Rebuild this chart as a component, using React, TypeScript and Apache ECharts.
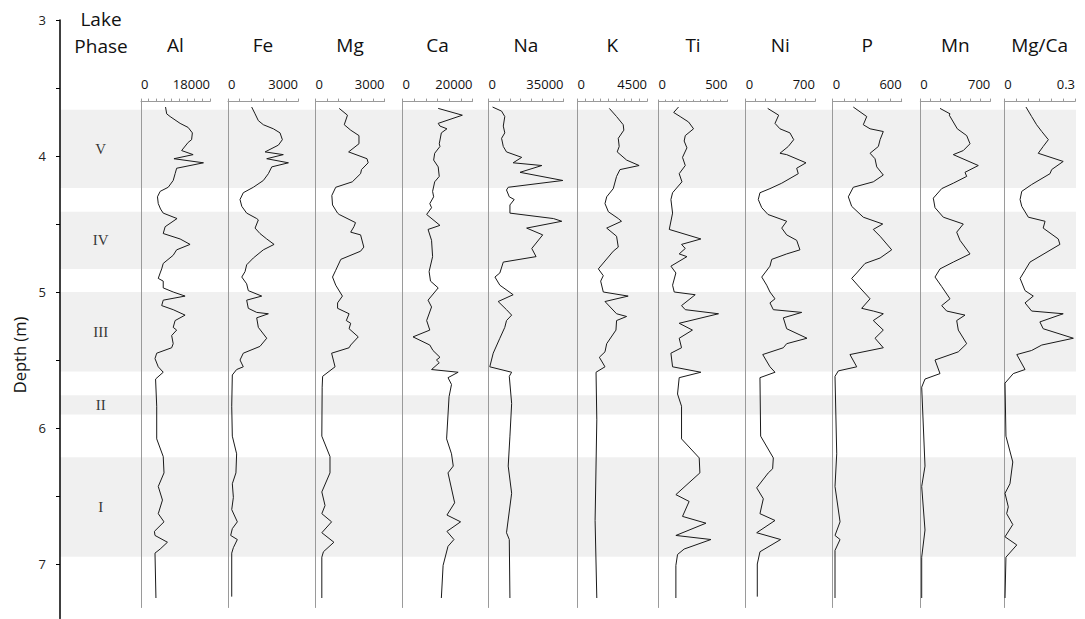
import { useEffect, useRef } from "react";
import * as echarts from "echarts";

// ---------- data ----------
const PANEL_NAMES = ["Al", "Fe", "Mg", "Ca", "Na", "K", "Ti", "Ni", "P", "Mn", "Mg/Ca"];
const PANEL_MAX = [18000, 3000, 3000, 20000, 35000, 4500, 500, 700, 600, 700, 0.3];
const PANEL_MAX_LABELS = ["18000", "3000", "3000", "20000", "35000", "4500", "500", "700", "600", "700", "0.3"];
const PANEL_TICK_COUNT = [9, 6, 6, 6, 7, 9, 10, 7, 6, 7, 6];

const PHASE_NAMES = ["V", "IV", "III", "II", "I"];
const PHASE_TOP = [3.66, 4.41, 5.0, 5.76, 6.215];
const PHASE_BOTTOM = [4.235, 4.83, 5.585, 5.9, 6.946];

const DEPTH_MIN = 3;
const DEPTH_MAX = 7.4;

// [depth (m), value]
const AL = [[3.64,6400],[3.69,6700],[3.71,7600],[3.76,10200],[3.79,12300],[3.83,13400],[3.88,13200],[3.9,12300],[3.96,10600],[3.99,13600],[4.02,8600],[4.05,16300],[4.09,9300],[4.13,8900],[4.18,8400],[4.23,7100],[4.26,5000],[4.3,4300],[4.35,4500],[4.39,5100],[4.42,5800],[4.46,9400],[4.52,6300],[4.57,5800],[4.61,10200],[4.65,12800],[4.69,9300],[4.73,8400],[4.79,5800],[4.83,5400],[4.86,5000],[4.9,4500],[4.92,5800],[4.97,5800],[5.0,8400],[5.03,11500],[5.06,5800],[5.1,5400],[5.13,8400],[5.17,11500],[5.21,8900],[5.26,8400],[5.28,9300],[5.32,8000],[5.38,8400],[5.41,8000],[5.45,4100],[5.49,3650],[5.55,4500],[5.59,5800],[5.64,3800],[5.84,4100],[6.08,4100],[6.21,5800],[6.33,6000],[6.43,4500],[6.53,5600],[6.63,4500],[6.69,6000],[6.76,3500],[6.79,3650],[6.84,6900],[6.89,5000],[6.92,3650],[7.25,3900]];
const FE = [[3.64,1015],[3.69,1160],[3.74,1300],[3.77,1515],[3.8,1945],[3.83,2230],[3.88,2330],[3.92,2160],[3.97,1590],[3.99,2370],[4.02,1660],[4.05,2590],[4.08,1875],[4.13,1730],[4.18,1515],[4.23,1085],[4.27,655],[4.32,515],[4.37,590],[4.42,800],[4.46,1230],[4.47,1300],[4.53,1160],[4.57,1370],[4.61,1660],[4.65,1975],[4.69,1515],[4.75,1085],[4.8,800],[4.85,730],[4.89,590],[4.94,800],[4.99,870],[5.03,1445],[5.06,800],[5.12,870],[5.15,1230],[5.16,1730],[5.19,1230],[5.26,1300],[5.34,1660],[5.4,1370],[5.45,655],[5.5,515],[5.55,655],[5.57,370],[5.61,185],[5.84,160],[6.06,185],[6.19,370],[6.33,340],[6.41,185],[6.51,230],[6.6,160],[6.69,400],[6.74,185],[6.79,115],[6.82,400],[6.88,230],[6.92,160],[7.24,160]];
const MG = [[3.65,1030],[3.7,1390],[3.77,1250],[3.81,1530],[3.85,1890],[3.91,1890],[3.97,1440],[4.02,2240],[4.05,2290],[4.1,2000],[4.13,1960],[4.19,1600],[4.23,880],[4.29,710],[4.36,740],[4.42,960],[4.43,1030],[4.49,1740],[4.52,1670],[4.56,1530],[4.58,1960],[4.67,2100],[4.7,1960],[4.76,1100],[4.84,880],[4.89,740],[4.95,880],[5.03,1170],[5.08,960],[5.12,960],[5.16,1460],[5.21,1340],[5.23,1530],[5.27,1460],[5.33,1860],[5.39,1530],[5.41,1460],[5.45,700],[5.55,850],[5.62,310],[5.7,290],[6.06,275],[6.21,630],[6.33,630],[6.47,275],[6.57,415],[6.63,275],[6.69,700],[6.77,275],[6.84,800],[6.91,345],[6.95,275],[7.25,275]];
const CA = [[3.65,10200],[3.7,17100],[3.76,10200],[3.78,10700],[3.8,12700],[3.83,11100],[3.91,10500],[3.93,10700],[3.98,9200],[4.03,8900],[4.08,10200],[4.15,10500],[4.19,9200],[4.26,8600],[4.3,8900],[4.35,7800],[4.38,8300],[4.43,6900],[4.51,10700],[4.54,7300],[4.62,8300],[4.74,8600],[4.85,7600],[4.92,8000],[4.97,10200],[5.06,7300],[5.11,8300],[5.21,6900],[5.28,7800],[5.33,3000],[5.39,7800],[5.43,8700],[5.48,10700],[5.5,9700],[5.52,10500],[5.57,8300],[5.59,15900],[5.63,13000],[5.68,14000],[5.77,13300],[6.08,12600],[6.19,14000],[6.28,14500],[6.33,13000],[6.55,14900],[6.64,12700],[6.69,16600],[6.76,12700],[6.82,14700],[6.87,13000],[7.01,11600],[7.25,11100]];
const NA = [[3.64,1900],[3.67,6100],[3.71,7600],[3.78,6900],[3.83,7600],[3.87,6100],[3.93,6900],[3.97,8400],[4.01,15500],[4.05,11500],[4.07,24900],[4.12,14700],[4.18,34700],[4.23,9200],[4.25,8400],[4.3,9700],[4.32,12000],[4.36,10000],[4.42,10000],[4.46,30300],[4.48,34200],[4.53,17800],[4.58,25300],[4.68,20200],[4.74,22200],[4.78,6900],[4.86,5300],[4.89,3000],[4.95,5300],[5.02,11500],[5.07,4500],[5.13,8400],[5.17,10800],[5.21,8400],[5.26,7600],[5.34,5300],[5.45,2200],[5.55,600],[5.59,10800],[5.62,9700],[5.82,10800],[6.06,10000],[6.28,9200],[6.48,10800],[6.77,8400],[6.82,9700],[7.25,10000]];
const K = [[3.65,2060],[3.71,2530],[3.77,2960],[3.81,3000],[3.87,2640],[3.93,2700],[3.97,2570],[4.03,3180],[4.07,3990],[4.1,2750],[4.15,2530],[4.24,2315],[4.3,1890],[4.35,1780],[4.41,2000],[4.46,2640],[4.48,2850],[4.53,1890],[4.59,2530],[4.67,2640],[4.7,2315],[4.83,1350],[4.88,1670],[4.92,1500],[5.0,1670],[5.03,3280],[5.07,1780],[5.16,2530],[5.18,3180],[5.21,2530],[5.28,2490],[5.38,1890],[5.44,1780],[5.48,1415],[5.55,1780],[5.59,1200],[5.94,1250],[6.68,1140],[7.25,1250]];
const TI = [[3.64,145],[3.68,110],[3.71,157],[3.75,218],[3.8,254],[3.85,194],[3.89,186],[3.94,206],[4.01,174],[4.07,194],[4.13,150],[4.19,170],[4.27,102],[4.32,90],[4.42,102],[4.54,78],[4.61,307],[4.65,167],[4.68,194],[4.72,150],[4.74,206],[4.81,90],[4.86,126],[4.95,102],[5.0,114],[5.02,266],[5.1,167],[5.13,194],[5.16,435],[5.23,150],[5.28,246],[5.34,150],[5.41,167],[5.45,90],[5.55,102],[5.59,307],[5.63,150],[5.75,138],[5.84,167],[6.08,167],[6.22,295],[6.33,300],[6.49,126],[6.54,222],[6.65,174],[6.7,344],[6.79,126],[6.82,380],[6.89,186],[6.93,138],[7.01,126],[7.25,126]];
const NI = [[3.65,222],[3.7,333],[3.76,296],[3.8,346],[3.83,447],[3.88,485],[3.93,430],[3.98,346],[3.99,414],[4.05,609],[4.09,515],[4.13,531],[4.2,364],[4.24,245],[4.27,144],[4.32,127],[4.38,162],[4.43,225],[4.48,414],[4.53,364],[4.58,414],[4.62,515],[4.69,548],[4.72,414],[4.76,263],[4.81,245],[4.89,162],[4.95,212],[5.0,245],[5.05,296],[5.08,245],[5.13,279],[5.15,566],[5.19,380],[5.27,414],[5.34,619],[5.38,414],[5.41,380],[5.46,172],[5.55,245],[5.59,296],[5.63,144],[6.06,151],[6.22,279],[6.3,272],[6.33,228],[6.44,111],[6.52,178],[6.63,144],[6.68,296],[6.77,111],[6.82,353],[6.91,144],[7.0,117],[7.24,117]];
const P = [[3.64,179],[3.71,296],[3.77,266],[3.8,325],[3.82,440],[3.88,412],[3.93,397],[3.98,325],[4.02,368],[4.08,383],[4.14,440],[4.19,353],[4.23,179],[4.3,136],[4.37,165],[4.45,266],[4.5,435],[4.54,353],[4.59,412],[4.69,513],[4.75,412],[4.79,281],[4.86,209],[4.9,165],[4.97,238],[5.05,325],[5.12,252],[5.14,353],[5.16,440],[5.21,353],[5.28,440],[5.34,368],[5.41,440],[5.46,150],[5.55,209],[5.58,49],[5.62,20],[6.19,35],[6.43,20],[6.69,64],[6.79,20],[6.82,64],[6.9,20],[7.25,20]];
const MN = [[3.65,197],[3.69,297],[3.7,290],[3.8,370],[3.85,464],[3.91,497],[3.96,430],[3.99,330],[4.07,580],[4.12,447],[4.15,464],[4.2,330],[4.24,214],[4.31,130],[4.38,147],[4.45,230],[4.5,430],[4.56,364],[4.62,397],[4.72,497],[4.78,330],[4.83,197],[4.89,147],[4.96,214],[5.05,297],[5.1,214],[5.14,264],[5.17,447],[5.21,364],[5.28,380],[5.38,464],[5.44,380],[5.5,147],[5.6,197],[5.64,47],[5.7,14],[6.28,47],[6.43,14],[6.75,47],[6.95,14],[7.25,14]];
const MGCA = [[3.64,0.092],[3.71,0.116],[3.77,0.137],[3.82,0.159],[3.88,0.187],[3.93,0.165],[3.98,0.144],[4.04,0.25],[4.1,0.201],[4.13,0.194],[4.21,0.116],[4.26,0.074],[4.32,0.067],[4.37,0.074],[4.45,0.102],[4.48,0.173],[4.53,0.165],[4.61,0.229],[4.65,0.236],[4.78,0.109],[4.84,0.088],[4.9,0.067],[4.99,0.088],[5.03,0.123],[5.08,0.088],[5.14,0.116],[5.16,0.25],[5.22,0.151],[5.27,0.165],[5.34,0.293],[5.39,0.159],[5.43,0.116],[5.46,0.053],[5.57,0.088],[5.6,0.038],[5.67,0.003],[6.06,0.007],[6.25,0.036],[6.41,0.024],[6.48,0.003],[6.58,0.017],[6.63,0.01],[6.71,0.036],[6.8,0.003],[6.86,0.053],[6.95,0.007],[7.25,0.003]];

const PANEL_DATA = [AL, FE, MG, CA, NA, K, TI, NI, P, MN, MGCA];

// ---------- layout / style ----------
const W = 1085;
const H = 619;
const PX_PER_M = 136;
const DEPTH_TOP_PX = 20;
const DEPTH_LEFT_PX = 60;
const BAND_RIGHT_PX = 1076;
const PANEL_TOP_DEPTH = 3.6;
const PANEL_BOTTOM_DEPTH = 7.32;
const PANEL_LEFT = [141, 228, 315.5, 402.5, 488.5, 577.5, 658.5, 745.7, 832.7, 920.3, 1004.3];
const PANEL_WIDTH = [69, 70, 69, 70, 75, 69.5, 69, 69.3, 69, 70, 70.7];
const PHASE_LABEL_X = 0.04; // fraction of the depth grid width
const SANS = "'Open Sans', 'Noto Sans', sans-serif";
const SERIF = "'Liberation Serif', 'DejaVu Serif', serif";
const AXIS_GREY = "#9a9a9a";
const BAND_GREY = "#f0f0f0";
const INK = "#1a1a1a";

function buildOption() {
  const grids: any[] = [];
  const xAxes: any[] = [];
  const yAxes: any[] = [];
  const series: any[] = [];

  // depth grid
  grids.push({
    left: DEPTH_LEFT_PX,
    top: DEPTH_TOP_PX,
    width: BAND_RIGHT_PX - DEPTH_LEFT_PX,
    height: (DEPTH_MAX - DEPTH_MIN) * PX_PER_M,
  });
  xAxes.push({ gridIndex: 0, type: "value", min: 0, max: 1, show: false });
  yAxes.push({
    gridIndex: 0,
    type: "value",
    inverse: true,
    min: DEPTH_MIN,
    max: DEPTH_MAX,
    interval: 0.5,
    z: 4,
    axisLine: { show: true, onZero: false, lineStyle: { color: "#000", width: 1.5 } },
    axisTick: { show: true, length: 4, lineStyle: { color: "#000", width: 1 } },
    axisLabel: {
      margin: 14,
      fontSize: 13,
      fontFamily: SANS,
      color: "#222",
      showMaxLabel: false,
      formatter: (v: number) => (Math.abs(v - Math.round(v)) < 1e-6 ? String(Math.round(v)) : ""),
    },
    splitLine: { show: false },
  });
  series.push({
    type: "line",
    xAxisIndex: 0,
    yAxisIndex: 0,
    data: [],
    z: 1,
    silent: true,
    markArea: {
      silent: true,
      itemStyle: { color: BAND_GREY },
      data: PHASE_NAMES.map((_, i) => [{ yAxis: PHASE_TOP[i] }, { yAxis: PHASE_BOTTOM[i] }]),
    },
  });
  series.push({
    type: "scatter",
    xAxisIndex: 0,
    yAxisIndex: 0,
    symbolSize: 1,
    z: 3,
    silent: true,
    itemStyle: { color: "rgba(0,0,0,0)" },
    label: {
      show: true,
      position: "inside",
      fontFamily: SERIF,
      fontSize: 15,
      color: "#000",
      formatter: (p: any) => PHASE_NAMES[p.dataIndex],
    },
    data: PHASE_NAMES.map((_, i) => [PHASE_LABEL_X, (PHASE_TOP[i] + PHASE_BOTTOM[i]) / 2]),
  });

  const top = DEPTH_TOP_PX + (PANEL_TOP_DEPTH - DEPTH_MIN) * PX_PER_M;
  const height = (PANEL_BOTTOM_DEPTH - PANEL_TOP_DEPTH) * PX_PER_M;

  PANEL_NAMES.forEach((name, i) => {
    const g = i + 1;
    const max = PANEL_MAX[i];
    grids.push({ left: PANEL_LEFT[i], top, width: PANEL_WIDTH[i], height });
    xAxes.push({
      gridIndex: g,
      type: "value",
      position: "top",
      min: 0,
      max,
      interval: max / PANEL_TICK_COUNT[i],
      z: 5,
      name,
      nameLocation: "middle",
      nameGap: 47,
      nameTextStyle: { fontSize: 19, fontFamily: SANS, color: "#111" },
      axisLine: { show: true, onZero: false, lineStyle: { color: AXIS_GREY, width: 1 } },
      axisTick: { show: true, inside: false, length: i === 6 ? 2 : 3, lineStyle: { color: AXIS_GREY } },
      axisLabel: {
        show: true,
        margin: 11,
        fontSize: 13,
        fontFamily: SANS,
        color: "#111",
        showMinLabel: true,
        showMaxLabel: true,
        alignMinLabel: "left",
        alignMaxLabel: "right",
        formatter: (v: number) =>
          Math.abs(v) < max * 1e-6 ? "0" : Math.abs(v - max) < max * 1e-6 ? PANEL_MAX_LABELS[i] : "",
      },
      splitLine: { show: false },
    });
    yAxes.push({
      gridIndex: g,
      type: "value",
      inverse: true,
      min: PANEL_TOP_DEPTH,
      max: PANEL_BOTTOM_DEPTH,
      z: 5,
      axisLine: { show: true, onZero: false, lineStyle: { color: AXIS_GREY, width: 1 } },
      axisTick: { show: false },
      axisLabel: { show: false },
      splitLine: { show: false },
    });
    series.push({
      type: "line",
      xAxisIndex: g,
      yAxisIndex: g,
      z: 6,
      symbol: "none",
      showSymbol: false,
      silent: true,
      lineStyle: { color: INK, width: 1 },
      data: PANEL_DATA[i].map((d) => [d[1], d[0]]),
    });
  });

  return {
    animation: false,
    backgroundColor: "#ffffff",
    grid: grids,
    xAxis: xAxes,
    yAxis: yAxes,
    series,
    graphic: [
      {
        type: "text",
        x: 101,
        y: 32,
        style: {
          text: "Lake\nPhase",
          align: "center",
          verticalAlign: "middle",
          fontSize: 19,
          lineHeight: 27,
          fontFamily: SANS,
          fill: "#111",
        },
      },
      {
        type: "text",
        x: 19,
        y: 355,
        rotation: Math.PI / 2,
        style: {
          text: "Depth (m)",
          align: "center",
          verticalAlign: "middle",
          fontSize: 16.5,
          fontFamily: SANS,
          fill: "#111",
        },
      },
    ],
  };
}

export default function App() {
  const ref = useRef<HTMLDivElement>(null);
  useEffect(() => {
    if (!ref.current) return;
    const chart = echarts.init(ref.current, undefined, { renderer: "svg" });
    chart.setOption(buildOption() as any);
    return () => chart.dispose();
  }, []);
  return (
    <div
      ref={ref}
      style={{ position: "absolute", left: 0, top: 0, width: W, height: H, background: "#fff" }}
    />
  );
}
